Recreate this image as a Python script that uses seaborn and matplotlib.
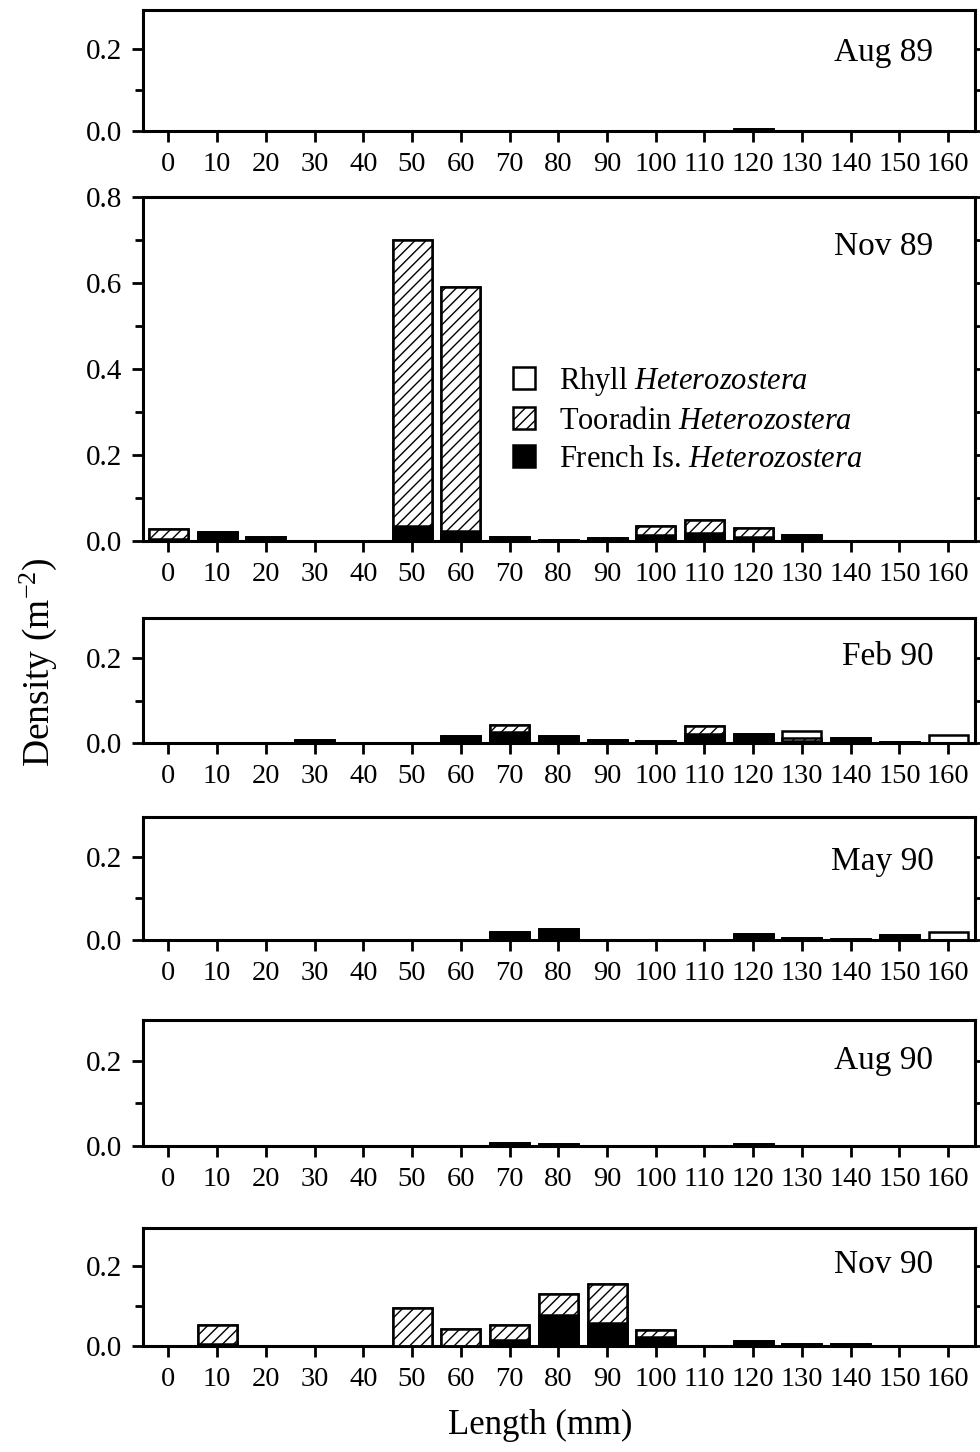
import numpy as np
import pandas as pd
import matplotlib
matplotlib.use('Agg')
import matplotlib.pyplot as plt
from matplotlib.patches import Patch
from matplotlib.ticker import MultipleLocator
import seaborn as sns

sns.set_style('ticks')
plt.rcParams['font.family'] = ['Liberation Serif', 'DejaVu Serif']
plt.rcParams['mathtext.fontset'] = 'custom'
plt.rcParams['mathtext.rm'] = 'Liberation Serif'
plt.rcParams['mathtext.it'] = 'Liberation Serif:italic'
plt.rcParams['hatch.linewidth'] = 1.0
plt.rcParams['axes.edgecolor'] = 'black'
plt.rcParams['text.color'] = 'black'
plt.rcParams['xtick.color'] = 'black'
plt.rcParams['ytick.color'] = 'black'
plt.rcParams['axes.labelcolor'] = 'black'

lengths = [0, 10, 20, 30, 40, 50, 60, 70, 80, 90, 100, 110, 120, 130, 140, 150, 160]
months = ['Aug 89', 'Nov 89', 'Feb 90', 'May 90', 'Aug 90', 'Nov 90']

# density (m-2) per 10 mm length class
french = {
    'Aug 89': [0, 0, 0, 0, 0, 0, 0, 0, 0, 0, 0, 0, 0.005, 0, 0, 0, 0],
    'Nov 89': [0.005, 0.02, 0.01, 0, 0, 0.034, 0.024, 0.01, 0.002, 0.008, 0.014, 0.018, 0.01, 0.015, 0, 0, 0],
    'Feb 90': [0, 0, 0, 0.008, 0, 0, 0.016, 0.025, 0.016, 0.007, 0.005, 0.022, 0.021, 0.004, 0.012, 0.003, 0],
    'May 90': [0, 0, 0, 0, 0, 0, 0, 0.019, 0.027, 0, 0, 0, 0.015, 0.005, 0.003, 0.012, 0],
    'Aug 90': [0, 0, 0, 0, 0, 0, 0, 0.006, 0.005, 0, 0, 0, 0.004, 0, 0, 0, 0],
    'Nov 90': [0, 0.004, 0, 0, 0, 0, 0, 0.016, 0.077, 0.058, 0.023, 0, 0.012, 0.004, 0.004, 0, 0],
}
tooradin = {
    'Aug 89': [0] * 17,
    'Nov 89': [0.023, 0, 0, 0, 0, 0.665, 0.566, 0, 0, 0, 0.02, 0.032, 0.021, 0, 0, 0, 0],
    'Feb 90': [0, 0, 0, 0, 0, 0, 0, 0.018, 0, 0, 0, 0.018, 0, 0.008, 0, 0, 0],
    'May 90': [0] * 17,
    'Aug 90': [0] * 17,
    'Nov 90': [0, 0.048, 0, 0, 0, 0.096, 0.042, 0.036, 0.054, 0.098, 0.018, 0, 0, 0, 0, 0, 0],
}
rhyll = {
    'Aug 89': [0] * 17,
    'Nov 89': [0] * 17,
    'Feb 90': [0] * 13 + [0.016, 0, 0, 0.019],
    'May 90': [0] * 16 + [0.02],
    'Aug 90': [0] * 17,
    'Nov 90': [0] * 17,
}

# axes boxes in pixels: top, bottom
boxes = [(10, 131), (197, 541), (618, 743), (817, 940), (1020, 1146), (1228, 1346)]
label_y = [0.645, 0.855, 0.69, 0.64, 0.68, 0.69]
W, H = 980, 1452
left_px, right_px = 143, 975

fig = plt.figure(figsize=(W / 100, H / 100), dpi=100)

for i, m in enumerate(months):
    top, bot = boxes[i]
    ax = fig.add_axes([left_px / W, 1 - bot / H, (right_px - left_px) / W, (bot - top) / H])
    df = pd.DataFrame({
        'length': lengths,
        'french': french[m],
        'tooradin': tooradin[m],
        'rhyll': rhyll[m],
    })
    df['ft'] = df['french'] + df['tooradin']
    df['total'] = df['ft'] + df['rhyll']

    # stacked look: draw cumulative totals, largest first
    sns.barplot(data=df, x='length', y='total', order=lengths, color='white',
                edgecolor='black', linewidth=1.8, width=0.8, errorbar=None, ax=ax, zorder=2)
    sns.barplot(data=df, x='length', y='ft', order=lengths, color='white', hatch='///',
                edgecolor='black', linewidth=1.8, width=0.8, errorbar=None, ax=ax, zorder=3)
    sns.barplot(data=df, x='length', y='french', order=lengths, color='black',
                edgecolor='black', linewidth=1.8, width=0.8, errorbar=None, ax=ax, zorder=4)

    ax.set_xlim(-0.52, 16.55)
    if m == 'Nov 89':
        ax.set_ylim(0, 0.8)
    else:
        ax.set_ylim(0, 0.295)
    ax.yaxis.set_major_locator(MultipleLocator(0.2))
    ax.yaxis.set_minor_locator(MultipleLocator(0.1))
    ax.set_yticklabels([f'{v:.1f}' for v in ax.get_yticks()])
    ax.set_xlabel('')
    ax.set_ylabel('')
    for s in ax.spines.values():
        s.set_linewidth(2.2)
        s.set_visible(True)
    ax.tick_params(axis='x', which='major', direction='out', length=8, width=2,
                   labelsize=20.5, pad=7)
    ax.tick_params(axis='y', which='major', direction='out', length=8, width=2,
                   labelsize=21, pad=7)
    ax.tick_params(axis='y', which='minor', direction='out', length=6, width=2)
    ax.tick_params(axis='y', which='both', right=True, labelright=False)
    ax.set_xticks(range(len(lengths)))
    ax.set_xticklabels([str(v) for v in lengths])
    ax.text(0.95, label_y[i], m, transform=ax.transAxes, ha='right', va='center',
            fontsize=24)

    if m == 'Nov 89':
        handles = [
            Patch(facecolor='white', edgecolor='black', linewidth=1.8),
            Patch(facecolor='white', edgecolor='black', hatch='///', linewidth=1.8),
            Patch(facecolor='black', edgecolor='black', linewidth=1.8),
        ]
        labels = [r'Rhyll $\mathit{Heterozostera}$',
                  r'Tooradin $\mathit{Heterozostera}$',
                  r'French Is. $\mathit{Heterozostera}$']
        ax.legend(handles, labels, loc='upper left', bbox_to_anchor=(0.445, 0.513),
                  frameon=False, fontsize=22, handlelength=0.7, handleheight=0.7,
                  handletextpad=0.8, labelspacing=0.3, borderpad=0, borderaxespad=0)

fig.text(38 / W, 1 - 662 / H, r'Density (m$^{-2}$)', rotation=90, ha='center',
         va='center', fontsize=27)
fig.text(540 / W, 1 - 1425 / H, 'Length (mm)', ha='center', va='center', fontsize=25)

fig.savefig('out.png', dpi=100)
